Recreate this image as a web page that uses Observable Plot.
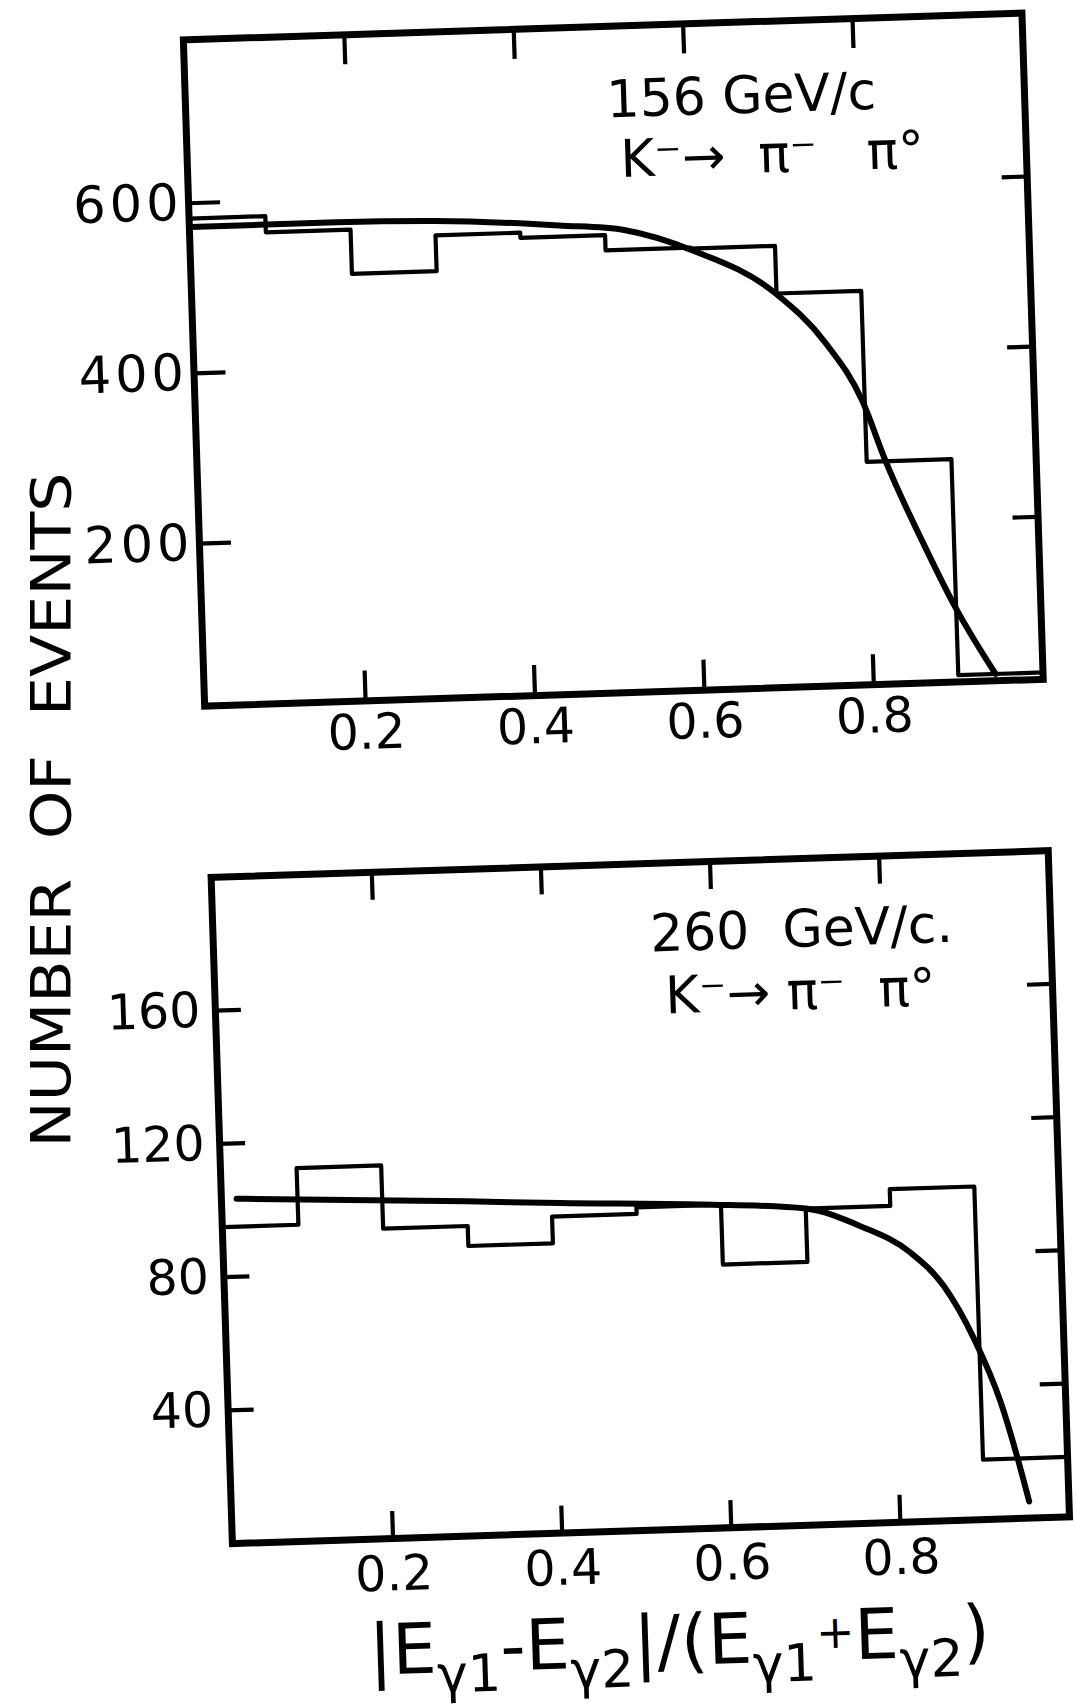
<!DOCTYPE html>
<html>
<head>
<meta charset="utf-8">
<script src="https://cdn.jsdelivr.net/npm/d3@7"></script>
<script src="https://cdn.jsdelivr.net/npm/@observablehq/plot@0.6"></script>
<style>
  html, body { margin: 0; padding: 0; background: #fff; overflow: hidden; }
  #page { position: relative; width: 1076px; height: 1705px;
          transform: rotate(-1.83deg); transform-origin: 538px 852.5px;
          font-family: "DejaVu Sans", sans-serif; }
  .panel { position: absolute; left: 0; }
  .overlay { position: absolute; left: 0; top: 0; pointer-events: none; }
</style>
</head>
<body>
<div id="page"></div>
<script>
// ---- data ----
const binEdges = [0, 0.1, 0.2, 0.3, 0.4, 0.5, 0.6, 0.7, 0.8, 0.9, 1.0];
const counts156 = [582, 563, 511, 553, 547, 529, 528, 472, 271, 17];
const counts260 = [95, 112, 93, 87, 95, 97, 79, 95, 100, 18];

const fit156X = [0, 0.184, 0.30, 0.40, 0.446, 0.524, 0.602, 0.699, 0.756, 0.797, 0.822, 0.866, 0.899, 0.944];
const fit156Y = [572, 572, 570, 564, 560, 552, 526, 472, 412, 343, 272, 168, 97, 17];

const fit260X = [0.028, 0.30, 0.41, 0.576, 0.70, 0.764, 0.822, 0.860, 0.894, 0.923, 0.941, 0.953];
const fit260Y = [103.4, 100.4, 99.0, 97.2, 95.0, 89.2, 80.8, 70.5, 54.3, 35.1, 18, 5];

const xTicks = [0.2, 0.4, 0.6, 0.8];
const yTicks156 = [200, 400, 600];
const yTicks260 = [40, 80, 120, 160];

const ann156 = ["156 GeV/c", "K\u207B\u2192\u00A0\u00A0\u03C0\u207B\u00A0\u00A0\u00A0\u03C0\u00B0"];
const ann260 = ["260\u00A0\u00A0GeV/c.", "K\u207B\u2192\u00A0\u03C0\u207B\u00A0\u00A0\u03C0\u00B0"];
const yLabelText = "NUMBER  OF  EVENTS";

// ---- helpers ----
function histTable(counts) {
  return binEdges.map((e, i) => ({x: e, y: counts[Math.min(i, counts.length - 1)]}));
}
function fitTable(xs, ys) {
  return xs.map((x, i) => ({x, y: ys[i]}));
}

function panel(o) {
  const innerW = o.width - o.marginLeft - o.marginRight;
  const innerH = o.height - o.marginTop - o.marginBottom;
  return Plot.plot({
    width: o.width, height: o.height,
    marginLeft: o.marginLeft, marginRight: o.marginRight,
    marginTop: o.marginTop, marginBottom: o.marginBottom,
    x: {domain: [0.01, 1.0], ticks: xTicks, tickSize: 0, tickPadding: o.padX, label: null},
    y: {domain: o.yDomain, ticks: o.yTicks, tickSize: 0, tickPadding: o.padY, label: null},
    style: {fontFamily: "DejaVu Sans", fontSize: "49px", background: "transparent", color: "#000", overflow: "visible"},
    marks: [
      Plot.line(histTable(o.counts), {x: "x", y: "y", curve: "step-after", stroke: "#000", strokeWidth: 4.2, clip: true}),
      Plot.line(fitTable(o.fitX, o.fitY), {x: "x", y: "y", curve: "monotone-x", stroke: "#000", strokeWidth: 6, clip: true}),
      Plot.tickY(o.yTicks, {y: d => d, insetRight: innerW - o.lenL, stroke: "#000", strokeWidth: 4.2}),
      Plot.tickY(o.yTicks, {y: d => d, insetLeft: innerW - o.lenR, stroke: "#000", strokeWidth: 4.2}),
      Plot.tickX(xTicks, {x: d => d, insetTop: innerH - o.lenB, stroke: "#000", strokeWidth: 4.2}),
      Plot.tickX(xTicks, {x: d => d, insetBottom: innerH - o.lenT, stroke: "#000", strokeWidth: 4.2}),
      Plot.frame({stroke: "#000", strokeWidth: 7}),
      Plot.text([o.ann[0]], {text: d => d, frameAnchor: "top-left", dx: o.a1[0], dy: o.a1[1],
        textAnchor: "start", lineAnchor: "bottom", fontSize: 52, fill: "#000"}),
      Plot.text([o.ann[1]], {text: d => d, frameAnchor: "top-left", dx: o.a2[0], dy: o.a2[1],
        textAnchor: "start", lineAnchor: "bottom", fontSize: 52, fill: "#000"})
    ]
  });
}

const pageEl = document.getElementById("page");

const topPlot = panel({
  width: 1076, height: 770, marginLeft: 209, marginRight: 28, marginTop: 28.5, marginBottom: 75,
  yDomain: [9, 792], yTicks: yTicks156, counts: counts156, fitX: fit156X, fitY: fit156Y,
  lenL: 32, lenR: 25, lenB: 30, lenT: 30, padX: 13, padY: 6,
  ann: ann156, a1: [421, 91], a2: [433, 151]
});
topPlot.classList.add("panel");
topPlot.style.top = "0px";
pageEl.appendChild(topPlot);
// the upper panel's count labels are drawn wider in the original lettering
d3.select(topPlot).selectAll('g[aria-label="y-axis tick label"] text')
  .attr("font-size", 51).attr("letter-spacing", 4);

const bottomPlot = panel({
  width: 1076, height: 770, marginLeft: 210, marginRight: 28.5, marginTop: 26.5, marginBottom: 77,
  yDomain: [0, 200], yTicks: yTicks260, counts: counts260, fitX: fit260X, fitY: fit260Y,
  lenL: 26, lenR: 25, lenB: 27, lenT: 28, padX: 17, padY: 15,
  ann: ann260, a1: [437, 88], a2: [450, 150.5]
});
bottomPlot.classList.add("panel");
bottomPlot.style.top = "840px";
pageEl.appendChild(bottomPlot);

// ---- shared x-axis title (tilted with the scanned figure) ----
const overlay = d3.select(pageEl).append("svg")
  .attr("class", "overlay").attr("width", 1076).attr("height", 1705)
  .attr("font-family", "DejaVu Sans").attr("fill", "#000");

const xLabel = overlay.append("text")
  .attr("x", 654).attr("y", 1669)
  .attr("text-anchor", "middle")
  .attr("font-size", 70);
const xLabelParts = [
  {t: "|E", s: 70, dy: 0},
  {t: "\u03B31", s: 52, dy: 20},
  {t: "-E", s: 70, dy: -20},
  {t: "\u03B32", s: 52, dy: 20},
  {t: "|/(E", s: 70, dy: -20},
  {t: "\u03B31", s: 52, dy: 20},
  {t: "+", s: 46, dy: -32},
  {t: "E", s: 70, dy: 12},
  {t: "\u03B32", s: 52, dy: 20},
  {t: ")", s: 70, dy: -20}
];
xLabelParts.forEach(p => xLabel.append("tspan").attr("font-size", p.s).attr("dy", p.dy).text(p.t));

// ---- shared y-axis title (upright in the scan) ----
const yOverlay = d3.select(document.body).append("svg")
  .attr("class", "overlay").attr("width", 1076).attr("height", 1705)
  .attr("font-family", "DejaVu Sans").attr("fill", "#000");

yOverlay.append("text")
  .attr("transform", "translate(70,810) rotate(-90)")
  .attr("text-anchor", "middle")
  .attr("font-size", 56)
  .attr("textLength", 675)
  .attr("lengthAdjust", "spacingAndGlyphs")
  .style("white-space", "pre")
  .text(yLabelText);
</script>
</body>
</html>
